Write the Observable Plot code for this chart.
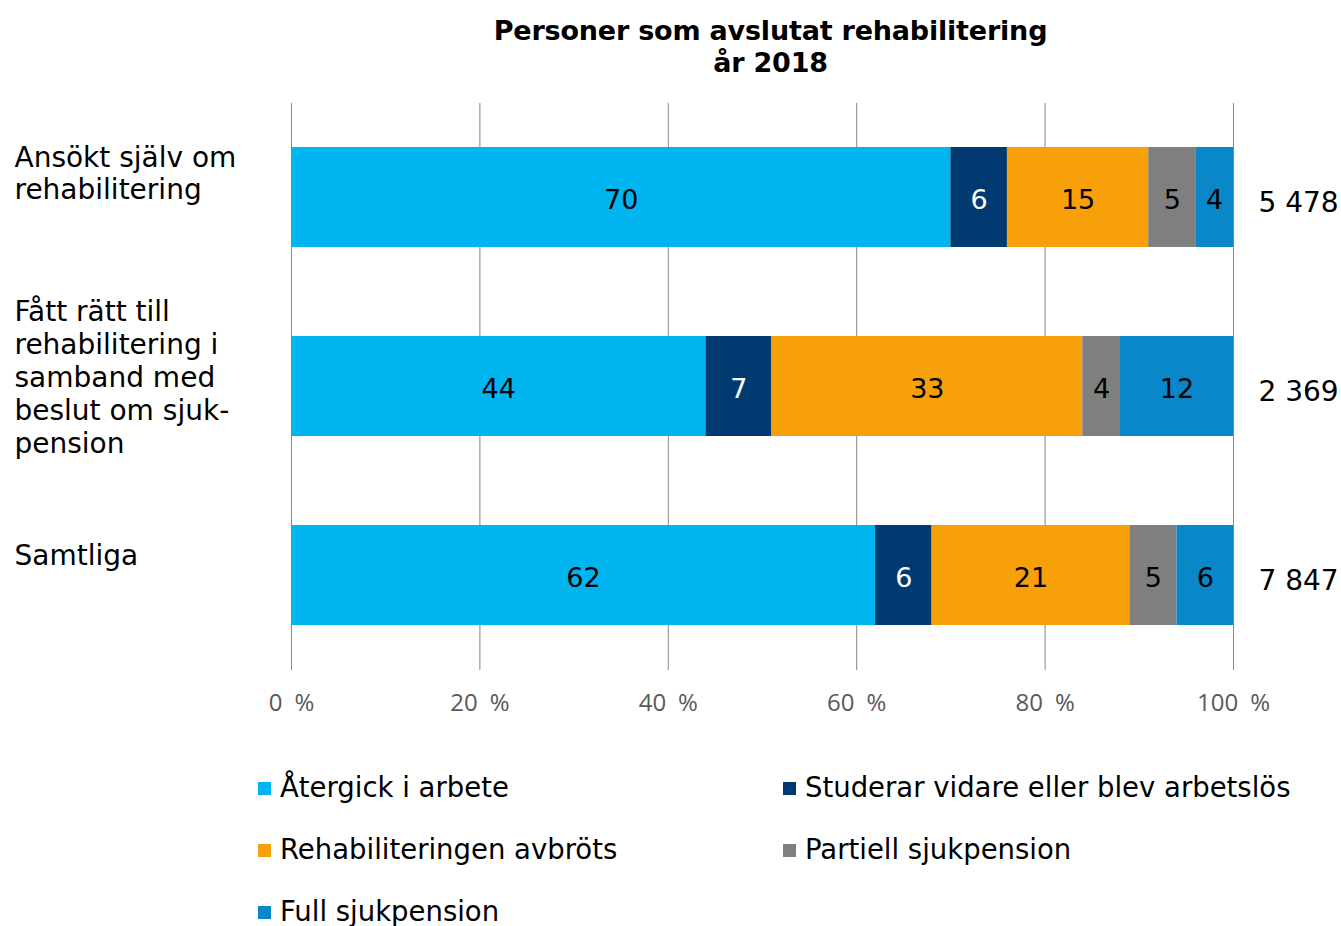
<!DOCTYPE html>
<html>
<head>
<meta charset="utf-8">
<script src="https://cdn.jsdelivr.net/npm/d3@7"></script>
<script src="https://cdn.jsdelivr.net/npm/@observablehq/plot@0.6"></script>
<style>
  html, body { margin: 0; padding: 0; background: #fff; }
  body { width: 1341px; height: 926px; overflow: hidden; font-family: "DejaVu Sans", Verdana, sans-serif; color: #000; }
  #title { height: 90px; box-sizing: border-box; padding-top: 15px; padding-left: 200px; text-align: center; font-weight: bold; font-size: 27px; line-height: 32px; letter-spacing: -0.2px; }
  #chart svg { display: block; }
  #legend { position: relative; height: 186px; }
  .li { position: absolute; font-size: 27.5px; line-height: 30px; white-space: nowrap; }
  .sw { display: inline-block; width: 13px; height: 13px; margin-right: 9px; vertical-align: 2px; }
</style>
</head>
<body>
<div id="title">Personer som avslutat rehabilitering<br>år 2018</div>
<div id="chart"></div>
<div id="legend"></div>
<script>
// ---- data ----
const categories = [
  "Ansökt själv om\nrehabilitering",
  "Fått rätt till\nrehabilitering i\nsamband med\nbeslut om sjuk-\npension",
  "Samtliga"
];
const seriesNames = [
  "Återgick i arbete",
  "Studerar vidare eller blev arbetslös",
  "Rehabiliteringen avbröts",
  "Partiell sjukpension",
  "Full sjukpension"
];
const seriesColors = ["#00B4F0", "#003A70", "#F7A00A", "#7F7F7F", "#0A87C8"];
const valAtergick = [70, 44, 62];
const valStuderar = [6, 7, 6];
const valAvbrots = [15, 33, 21];
const valPartiell = [5, 4, 5];
const valFull = [4, 12, 6];
const totals = [5478, 2369, 7847];
const xTicks = [0, 20, 40, 60, 80, 100];

const seriesValues = [valAtergick, valStuderar, valAvbrots, valPartiell, valFull];
const data = [];
categories.forEach((c, i) => {
  seriesNames.forEach((s, j) => {
    data.push({category: c, series: s, value: seriesValues[j][i]});
  });
});
const fmtTotal = n => String(n).replace(/\B(?=(\d{3})+(?!\d))/g, " ");
const totalRows = categories.map((c, i) => ({category: c, total: fmtTotal(totals[i])}));

const labelDy = [-25, -10, -21];
const FONT = "'DejaVu Sans', Verdana, sans-serif";

const chart = Plot.plot({
  width: 1341,
  height: 650,
  marginLeft: 291,
  marginRight: 108,
  marginTop: 13,
  marginBottom: 70,
  style: {fontFamily: FONT, background: "#fff", overflow: "visible"},
  x: {domain: [0, 100], ticks: xTicks, label: null},
  y: {domain: categories, paddingInner: 0.47, paddingOuter: 0.235, axis: null},
  color: {domain: seriesNames, range: seriesColors},
  marks: [
    Plot.gridX(xTicks, {stroke: "#868686", strokeOpacity: 1, strokeWidth: 1}),
    Plot.axisX(xTicks, {tickSize: 0, tickPadding: 23, label: null, tickFormat: d => d + "\u2002%", fontSize: 24, fontFamily: "'Open Sans', sans-serif", fill: "#595959"}),
    Plot.barX(data, {x: "value", y: "category", fill: "series", inset: 0}),
    Plot.text(data, Plot.filter(d => d.series !== seriesNames[1], Plot.stackX({x: "value", y: "category", text: d => String(d.value), fill: "#000", fontSize: 27, dy: 3}))),
    Plot.text(data, Plot.filter(d => d.series === seriesNames[1], Plot.stackX({x: "value", y: "category", text: d => String(d.value), fill: "#fff", fontSize: 27, dy: 3}))),
    ...categories.map((c, i) => Plot.text([c], {y: d => d, text: d => d, frameAnchor: "left", dx: -277, textAnchor: "start", lineAnchor: "middle", lineHeight: 1.17, fontSize: 28, fill: "#000", dy: labelDy[i]})),
    Plot.text(totalRows, {y: "category", text: "total", frameAnchor: "right", dx: 25, textAnchor: "start", fontSize: 28, fill: "#000", dy: 6})
  ]
});
document.getElementById("chart").appendChild(chart);

// legend
const legendPos = [
  {x: 258, y: 47}, {x: 783, y: 47},
  {x: 258, y: 109}, {x: 783, y: 109},
  {x: 258, y: 171}
];
const legend = document.getElementById("legend");
seriesNames.forEach((s, j) => {
  const el = document.createElement("div");
  el.className = "li";
  el.style.left = legendPos[j].x + "px";
  el.style.top = (legendPos[j].y - 15) + "px";
  el.innerHTML = `<span class="sw" style="background:${seriesColors[j]}"></span>${s}`;
  legend.appendChild(el);
});
</script>
</body>
</html>
